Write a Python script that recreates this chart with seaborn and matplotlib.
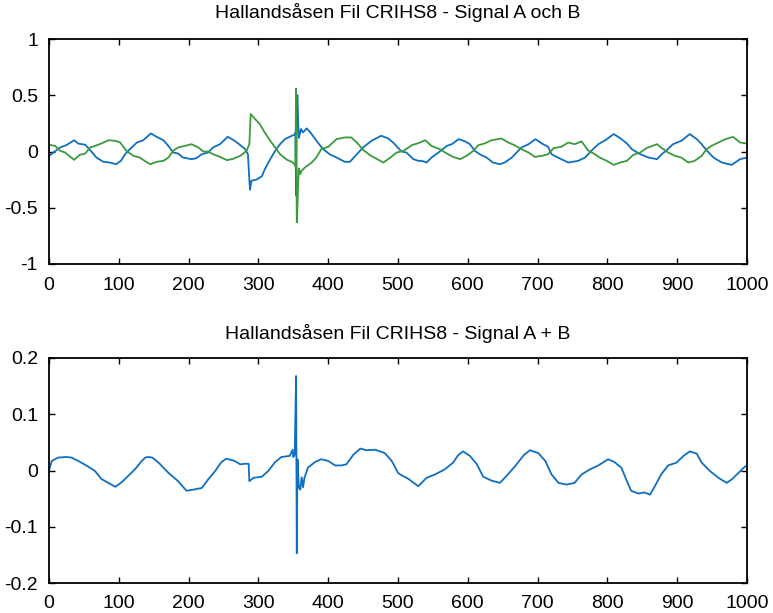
import matplotlib
matplotlib.use("Agg")
import matplotlib.pyplot as plt
import seaborn as sns
import pandas as pd

# ---- data ----
a_x = [0, 6, 16, 25, 36, 42, 52, 59, 68, 78, 87, 96, 103, 109, 116, 126, 135, 146, 154, 164,
       171, 178, 185, 192, 204, 211, 219, 228, 235, 245, 256, 266, 274, 281, 285, 287, 288, 290,
       297, 305, 309, 317, 324, 331, 338, 348, 352, 353, 354, 355, 356, 357, 358, 361, 364, 369,
       373, 378, 385, 393, 402, 412, 424, 431, 438, 450, 462, 476, 486, 493, 505, 512, 522, 529,
       534, 541, 548, 558, 570, 577, 587, 596, 603, 610, 617, 627, 636, 646, 653, 663, 670, 677,
       687, 697, 706, 715, 720, 729, 744, 758, 768, 777, 787, 797, 809, 818, 828, 835, 847, 859,
       871, 878, 885, 894, 906, 918, 928, 935, 942, 952, 964, 978, 990, 1000]
a_y = [-0.04, -0.01, 0.036, 0.057, 0.10, 0.07, 0.06, 0.012, -0.054, -0.092, -0.098, -0.113, -0.083,
       -0.024, 0.021, 0.080, 0.10, 0.161, 0.131, 0.10, 0.05, -0.009, -0.018, -0.054, -0.068, -0.06,
       -0.024, -0.009, 0.036, 0.065, 0.131, 0.095, 0.057, 0.021, -0.024, -0.25, -0.34, -0.26, -0.25,
       -0.22, -0.16, -0.068, 0.006, 0.065, 0.11, 0.14, 0.15, 0.17, -0.39, 0.48, 0.50, 0.25, 0.12,
       0.20, 0.17, 0.205, 0.18, 0.14, 0.08, 0.02, -0.024, -0.054, -0.092, -0.092, -0.045, 0.036,
       0.095, 0.14, 0.116, 0.08, 0.0, -0.009, -0.068, -0.083, -0.083, -0.098, -0.054, -0.009, 0.05,
       0.065, 0.11, 0.09, 0.065, 0.006, -0.024, -0.054, -0.098, -0.113, -0.098, -0.054, -0.009,
       0.036, 0.065, 0.11, 0.071, 0.042, -0.024, -0.054, -0.098, -0.083, -0.054, 0.006, 0.065, 0.10,
       0.155, 0.12, 0.071, 0.02, -0.024, -0.054, -0.068, -0.024, 0.012, 0.065, 0.095, 0.155, 0.11,
       0.065, 0.012, -0.054, -0.098, -0.119, -0.068, -0.054]

b_x = [0, 9, 16, 23, 36, 44, 52, 59, 66, 75, 85, 95, 102, 111, 121, 130, 137, 145, 154, 164, 171,
       178, 185, 195, 204, 214, 221, 228, 235, 245, 255, 264, 274, 283, 287, 289, 295, 302, 309,
       317, 324, 331, 341, 348, 352, 353, 354, 355, 356, 357, 358, 360, 362, 367, 376, 383, 390,
       400, 412, 424, 433, 441, 450, 460, 472, 479, 489, 498, 508, 520, 529, 539, 548, 560, 570,
       579, 589, 598, 608, 615, 624, 634, 648, 658, 667, 677, 687, 696, 706, 715, 723, 734, 744,
       753, 763, 772, 782, 789, 799, 809, 818, 828, 837, 847, 856, 871, 878, 887, 897, 906, 916,
       925, 935, 942, 949, 959, 969, 980, 990, 1000]
b_y = [0.06, 0.05, 0.006, -0.009, -0.074, -0.03, -0.018, 0.036, 0.05, 0.071, 0.10, 0.095, 0.08,
       0.006, -0.039, -0.054, -0.083, -0.113, -0.092, -0.083, -0.054, 0.006, 0.036, 0.05, 0.065,
       0.036, 0.0, 0.0, -0.024, -0.048, -0.077, -0.065, -0.039, 0.006, 0.065, 0.333, 0.29, 0.244,
       0.17, 0.095, 0.036, -0.024, -0.074, -0.092, -0.113, -0.13, 0.56, -0.63, -0.48, -0.28, -0.15,
       -0.20, -0.17, -0.14, -0.10, -0.054, 0.02, 0.042, 0.11, 0.125, 0.125, 0.08, 0.015, -0.033,
       -0.074, -0.098, -0.054, -0.009, 0.006, 0.057, 0.074, 0.10, 0.05, 0.02, -0.018, -0.048,
       -0.068, -0.039, 0.006, 0.056, 0.071, 0.10, 0.116, 0.08, 0.056, 0.02, -0.009, -0.048, -0.039,
       -0.024, 0.03, 0.042, 0.08, 0.065, 0.09, 0.012, -0.024, -0.054, -0.083, -0.119, -0.098,
       -0.083, -0.03, -0.009, 0.03, 0.065, 0.03, -0.009, -0.039, -0.054, -0.098, -0.083, -0.039,
       0.02, 0.05, 0.08, 0.11, 0.13, 0.08, 0.071]

s_x = [0, 4, 13, 25, 32, 42, 56, 66, 75, 85, 95, 104, 114, 123, 133, 138, 142, 148, 157, 171, 185,
       197, 207, 219, 228, 238, 247, 254, 266, 274, 281, 286, 287, 293, 305, 314, 324, 333, 345,
       349, 350, 352, 354, 355, 356, 358, 360, 362, 364, 366, 371, 381, 390, 400, 410, 419, 426,
       436, 446, 455, 467, 481, 491, 500, 503, 515, 529, 541, 553, 567, 579, 586, 593, 603, 613,
       622, 634, 646, 656, 668, 680, 689, 701, 711, 720, 730, 741, 753, 763, 775, 787, 801, 810,
       820, 827, 834, 844, 853, 861, 868, 877, 887, 899, 909, 918, 928, 935, 947, 959, 971, 978,
       988, 997, 1000]
s_y = [0.0, 0.017, 0.023, 0.024, 0.023, 0.017, 0.007, -0.001, -0.015, -0.022, -0.029, -0.021,
       -0.009, 0.002, 0.017, 0.023, 0.024, 0.023, 0.014, -0.004, -0.019, -0.036, -0.034, -0.031,
       -0.016, -0.001, 0.015, 0.021, 0.017, 0.011, 0.012, 0.012, -0.019, -0.013, -0.011, -0.001,
       0.015, 0.024, 0.026, 0.037, 0.024, 0.028, 0.168, -0.147, 0.02, -0.03, -0.034, -0.012, -0.03,
       -0.013, 0.005, 0.015, 0.020, 0.017, 0.009, 0.009, 0.011, 0.028, 0.039, 0.036, 0.037, 0.031,
       0.017, -0.004, -0.007, -0.015, -0.028, -0.013, -0.007, 0.002, 0.014, 0.027, 0.034, 0.026,
       0.011, -0.011, -0.018, -0.022, -0.009, 0.008, 0.027, 0.036, 0.031, 0.017, -0.007, -0.022,
       -0.025, -0.022, -0.007, 0.002, 0.009, 0.020, 0.015, 0.005, -0.016, -0.036, -0.041, -0.039,
       -0.043, -0.028, -0.007, 0.009, 0.014, 0.026, 0.034, 0.030, 0.014, -0.001, -0.013, -0.022,
       -0.016, -0.004, 0.007, 0.008]

x_ticks = [0, 100, 200, 300, 400, 500, 600, 700, 800, 900, 1000]
top_yticks = [-1, -0.5, 0, 0.5, 1]
top_ylabels = ["-1", "-0.5", "0", "0.5", "1"]
bot_yticks = [-0.2, -0.1, 0, 0.1, 0.2]
bot_ylabels = ["-0.2", "-0.1", "0", "0.1", "0.2"]
title_top = "Hallandsåsen Fil CRIHS8 - Signal A och B"
title_bot = "Hallandsåsen Fil CRIHS8 - Signal A + B"

# ---- style ----
sns.set_style("ticks")
plt.rcParams["font.family"] = ["Liberation Sans", "DejaVu Sans"]
plt.rcParams["axes.unicode_minus"] = False
plt.rcParams["text.color"] = "black"
plt.rcParams["xtick.color"] = "black"
plt.rcParams["ytick.color"] = "black"
plt.rcParams["axes.labelcolor"] = "black"

blue = "#0f6fbe"
green = "#3a9a3c"

fig = plt.figure(figsize=(7.73, 6.13), dpi=100)
W, H = 773, 613
ax1 = fig.add_axes([49 / W, 1 - 264 / H, 698 / W, 225 / H])
ax2 = fig.add_axes([49 / W, 1 - 583 / H, 698 / W, 225 / H])

dfa = pd.DataFrame({"x": a_x, "y": a_y})
dfb = pd.DataFrame({"x": b_x, "y": b_y})
dfs = pd.DataFrame({"x": s_x, "y": s_y})

sns.lineplot(data=dfa, x="x", y="y", ax=ax1, color=blue, lw=1.3, estimator=None)
sns.lineplot(data=dfb, x="x", y="y", ax=ax1, color=green, lw=1.3, estimator=None)
sns.lineplot(data=dfs, x="x", y="y", ax=ax2, color=blue, lw=1.3, estimator=None)

for ax, yt, yl, ylim, title, pad in [
    (ax1, top_yticks, top_ylabels, (-1, 1), title_top, 15),
    (ax2, bot_yticks, bot_ylabels, (-0.2, 0.2), title_bot, 14),
]:
    ax.set_xlim(0, 1000)
    ax.set_ylim(*ylim)
    ax.set_xticks(x_ticks)
    ax.set_xticklabels([str(t) for t in x_ticks])
    ax.set_yticks(yt)
    ax.set_yticklabels(yl)
    ax.set_xlabel("")
    ax.set_ylabel("")
    ax.tick_params(direction="in", length=4, width=1, labelsize=14, color="black",
                   labelcolor="black", top=True, right=True, pad=8)
    ax.tick_params(axis="x", pad=9)
    for sp in ax.spines.values():
        sp.set_visible(True)
        sp.set_color("black")
        sp.set_linewidth(1.3)
    ax.set_title(title, fontsize=14, pad=pad, color="black")

fig.savefig("out.png", dpi=100)
